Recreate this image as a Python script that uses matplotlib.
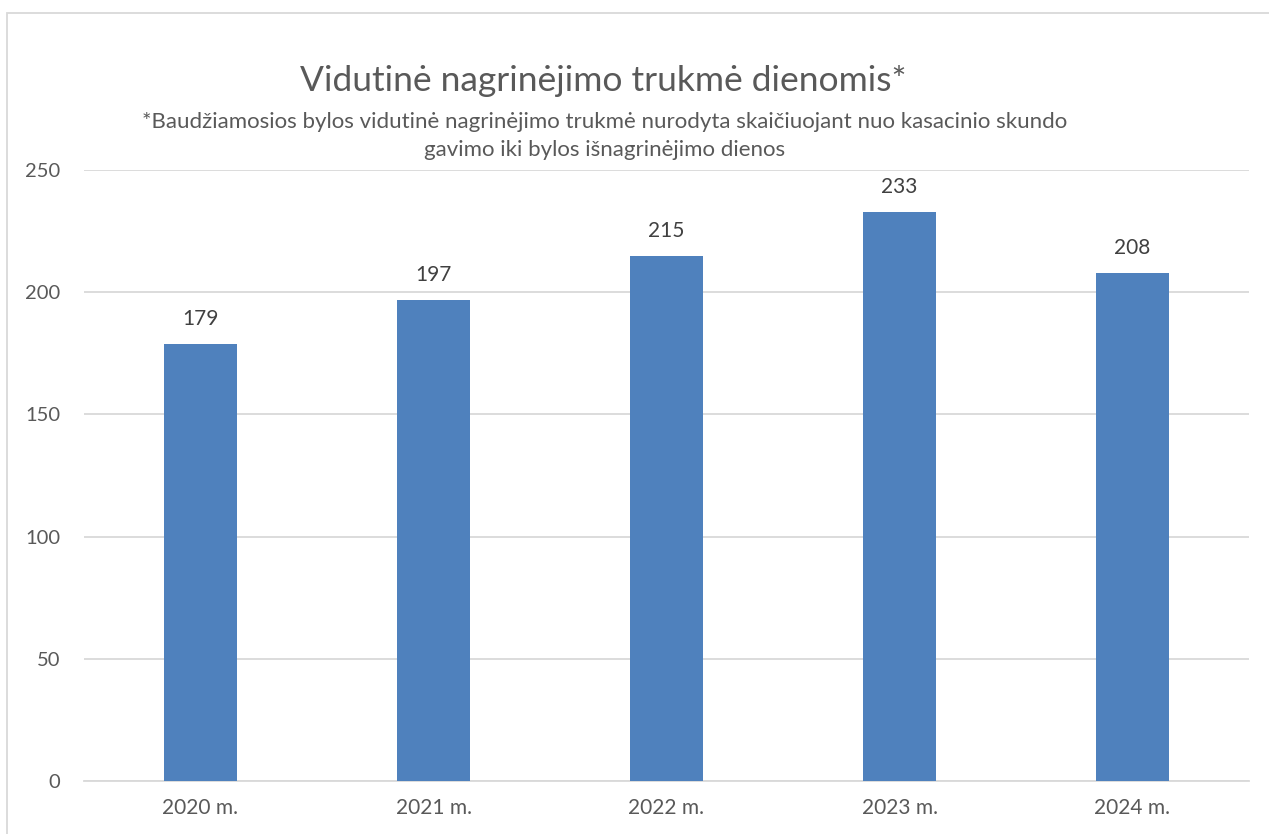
import matplotlib
matplotlib.use("Agg")
import matplotlib.pyplot as plt
from matplotlib.patches import Rectangle

categories = ["2020 m.", "2021 m.", "2022 m.", "2023 m.", "2024 m."]
values = [179, 197, 215, 233, 208]
yticks = [0, 50, 100, 150, 200, 250]
title = "Vidutinė nagrinėjimo trukmė dienomis*"
subtitle = ("*Baudžiamosios bylos vidutinė nagrinėjimo trukmė nurodyta skaičiuojant nuo kasacinio skundo\n"
            "gavimo iki bylos išnagrinėjimo dienos")

plt.rcParams['font.family'] = ['Lato', 'DejaVu Sans']
txt = '#595959'
W, H = 1269, 834
fig = plt.figure(figsize=(W / 100, H / 100), dpi=100)
ax = fig.add_axes([84 / W, 1 - 781 / H, (1249 - 84) / W, (781 - 170) / H])

x = list(range(len(categories)))
ax.bar(x, values, width=0.313, color='#4F81BD', zorder=3)
for xi, v in zip(x, values):
    ax.annotate(str(v), (xi, v), xytext=(0, 15), textcoords='offset pixels',
                ha='center', va='bottom', fontsize=15, color='#404040')

ax.set_xlim(-0.5, len(categories) - 0.5)
ax.set_ylim(0, 250)
ax.set_yticks(yticks)
ax.set_xticks(x)
ax.set_xticklabels(categories)
ax.yaxis.grid(True, color='#D9D9D9', linewidth=1.3, zorder=0)
for s in ['top', 'right', 'left']:
    ax.spines[s].set_visible(False)
ax.spines['bottom'].set_color('#D9D9D9')
ax.spines['bottom'].set_linewidth(1.3)
ax.tick_params(axis='both', length=0, labelcolor=txt)
ax.tick_params(axis='y', pad=17, labelsize=14.5)
ax.tick_params(axis='x', pad=12, labelsize=15)

fig.text(603 / W, 1 - 81 / H, title, ha='center', va='center', fontsize=25.5, color=txt)
fig.text(605 / W, 1 - 136 / H, subtitle, ha='center', va='center', fontsize=16,
         color=txt, linespacing=1.55)

fig.patches.append(Rectangle((7 / W, -0.1), 1.2, 1 - 12.5 / H + 0.1, transform=fig.transFigure,
                             fill=False, edgecolor='#D9D9D9', linewidth=1.3))

fig.savefig('out.png', dpi=100)
